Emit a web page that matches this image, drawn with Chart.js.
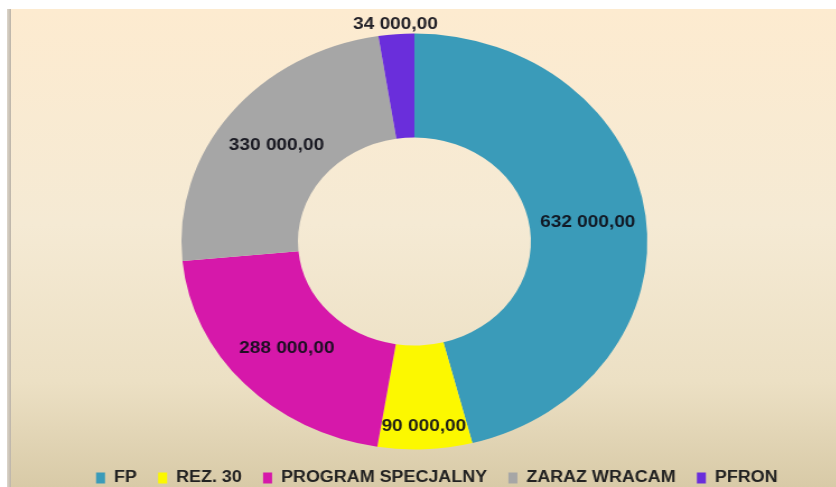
<!DOCTYPE html>
<html>
<head>
<meta charset="utf-8">
<script src="https://cdn.jsdelivr.net/npm/chart.js@4"></script>
<style>
  html, body { margin: 0; padding: 0; }
  body { width: 836px; height: 487px; overflow: hidden; background: #fff; position: relative; }
  /* beige slide background, white margin on top/left like the screenshot */
  #bg { position: absolute; left: 11px; top: 9px; right: 0; bottom: 0;
        background: linear-gradient(to bottom, #fdebd0 0%, #f5ead4 45%, #ece0c4 78%, #d8caa7 100%); }
  #edge { position: absolute; left: 7px; top: 9px; width: 4px; bottom: 0;
          background: linear-gradient(to right, #ddd6cb, #bcb4a8); }
  /* the original picture is stretched sideways, so stretch the canvas too */
  #wrap { position: absolute; left: 0; top: 0; width: 746px; height: 487px;
          transform: scaleX(1.12); transform-origin: 0 0; }
</style>
</head>
<body>
<div id="bg"></div>
<div id="edge"></div>
<div id="wrap"><canvas id="donutChart" width="746" height="487"></canvas></div>
<script>
//data
const labels = ["FP", "REZ. 30", "PROGRAM SPECJALNY", "ZARAZ WRACAM", "PFRON"];
const amounts = [632000, 90000, 288000, 330000, 34000];
const sliceColors = ['#3a9bb9', '#fcf800', '#d618aa', '#a6a6a6', '#6a2edb'];

//polish style number: 632 000,00
function plMoney(v) {
    const s = Math.round(v).toString();
    return s.replace(/\B(?=(\d{3})+(?!\d))/g, ' ') + ',00';
}

//value labels on the ring, thin slices get pushed outwards
const sliceLabels = {
    id: 'sliceLabels',
    afterDatasetsDraw(chart) {
        const ctx = chart.ctx;
        const meta = chart.getDatasetMeta(0);
        ctx.save();
        ctx.font = 'bold 17px "Liberation Sans", Arial, sans-serif';
        ctx.fillStyle = 'rgba(14,14,24,0.92)';
        ctx.textAlign = 'center';
        ctx.textBaseline = 'middle';
        meta.data.forEach((arc, i) => {
            const p = arc.getProps(['x', 'y', 'startAngle', 'endAngle', 'innerRadius', 'outerRadius'], true);
            const span = p.endAngle - p.startAngle;
            const mid = (p.startAngle + p.endAngle) / 2;
            let r;
            if (span < 0.2) r = p.outerRadius + 10;
            else if (span < 0.5) r = p.innerRadius + 0.78 * (p.outerRadius - p.innerRadius);
            else r = (p.innerRadius + p.outerRadius) / 2;
            ctx.fillText(plMoney(amounts[i]), p.x + Math.cos(mid) * r, p.y + Math.sin(mid) * r);
        });
        ctx.restore();
    }
};

//fix the ring box and move the legend a bit right of the ring centre, like the original
const layoutFix = {
    id: 'layoutFix',
    afterLayout(chart) {
        const a = chart.chartArea;
        a.left = 0; a.right = 740; a.width = 740;
        a.top = 33.5; a.bottom = 449.5; a.height = 416;
        const lg = chart.legend;
        const h = lg.bottom - lg.top;
        lg.left += 20;
        lg.right += 20;
        lg.top = 478 - 19 - 8;
        lg.bottom = lg.top + h;
    }
};

const data = {
    labels: labels,
    datasets: [{
        data: amounts,
        backgroundColor: sliceColors,
        borderWidth: 0
    }]
};

const config = {
    type: 'doughnut',
    data: data,
    options: {
        responsive: false,
        devicePixelRatio: 1,
        animation: false,
        cutout: '50%',
        layout: { padding: { top: 0, left: 0, right: 6, bottom: 0 } },
        plugins: {
            tooltip: { enabled: false },
            legend: {
                position: 'bottom',
                labels: {
                    boxWidth: 8,
                    boxHeight: 11,
                    padding: 19,
                    color: '#222',
                    font: { family: '"Liberation Sans", Arial, sans-serif', size: 16, weight: 'bold' }
                }
            }
        }
    },
    plugins: [sliceLabels, layoutFix]
};

const ctx = document.getElementById('donutChart').getContext('2d');
const donutChart = new Chart(ctx, config);
</script>
</body>
</html>
